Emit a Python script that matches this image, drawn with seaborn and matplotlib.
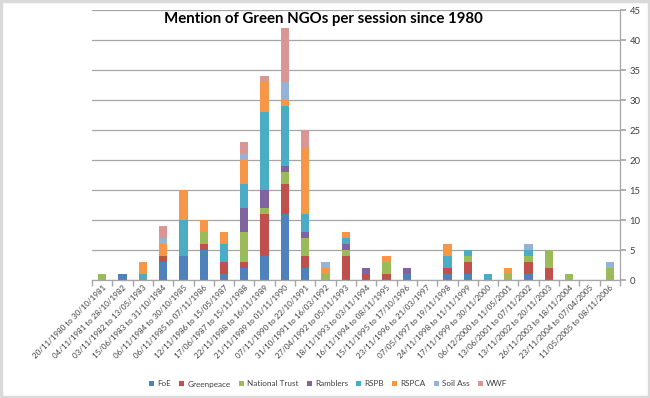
import matplotlib
matplotlib.use("Agg")
import matplotlib.pyplot as plt
import pandas as pd
import seaborn as sns
from matplotlib.patches import Patch, Rectangle
from matplotlib.ticker import FixedLocator

# --- DATA ---
sessions = [
    "20/11/1980 to 30/10/1981", "04/11/1981 to 28/10/1982", "03/11/1982 to 13/05/1983",
    "15/06/1983 to 31/10/1984", "06/11/1984 to 30/10/1985", "06/11/1985 to 07/11/1986",
    "12/11/1986 to 15/05/1987", "17/06/1987 to 15/11/1988", "22/11/1988 to 16/11/1989",
    "21/11/1989 to 01/11/1990", "07/11/1990 to 22/10/1991", "31/10/1991 to 16/03/1992",
    "27/04/1992 to 05/11/1993", "18/11/1993 to 03/11/1994", "16/11/1994 to 08/11/1995",
    "15/11/1995 to 17/10/1996", "23/11/1996 to 21/03/1997", "07/05/1997 to 19/11/1998",
    "24/11/1998 to 11/11/1999", "17/11/1999 to 30/11/2000", "06/12/2000 to 11/05/2001",
    "13/06/2001 to 07/11/2002", "13/11/2002 to 20/11/2003", "26/11/2003 to 18/11/2004",
    "23/11/2004 to 07/04/2005", "11/05/2005 to 08/11/2006",
]
orgs = ["FoE", "Greenpeace", "National Trust", "Ramblers", "RSPB", "RSPCA", "Soil Ass", "WWF"]

foe =            [0, 1, 0, 3, 4, 5, 1, 2, 4, 11, 2, 0, 0, 0, 0, 1, 0, 1, 1, 0, 0, 1, 0, 0, 0, 0]
greenpeace =     [0, 0, 0, 1, 0, 1, 2, 1, 7, 5, 2, 0, 4, 1, 1, 0, 0, 1, 2, 0, 0, 2, 2, 0, 0, 0]
national_trust = [1, 0, 0, 0, 0, 2, 0, 5, 1, 2, 3, 1, 1, 0, 2, 0, 0, 0, 1, 0, 1, 1, 3, 1, 0, 2]
ramblers =       [0, 0, 0, 0, 0, 0, 0, 4, 3, 1, 1, 0, 1, 1, 0, 1, 0, 0, 0, 0, 0, 0, 0, 0, 0, 0]
rspb =           [0, 0, 1, 0, 6, 0, 3, 4, 13, 10, 3, 0, 1, 0, 0, 0, 0, 2, 1, 1, 0, 1, 0, 0, 0, 0]
rspca =          [0, 0, 2, 2, 5, 2, 2, 4, 5, 1, 11, 1, 1, 0, 1, 0, 0, 2, 0, 0, 1, 0, 0, 0, 0, 0]
soil_ass =       [0, 0, 0, 1, 0, 0, 0, 1, 0, 3, 0, 1, 0, 0, 0, 0, 0, 0, 0, 0, 0, 1, 0, 0, 0, 1]
wwf =            [0, 0, 0, 2, 0, 0, 0, 2, 1, 9, 3, 0, 0, 0, 0, 0, 0, 0, 0, 0, 0, 0, 0, 0, 0, 0]

series = [foe, greenpeace, national_trust, ramblers, rspb, rspca, soil_ass, wwf]
colors = ["#4F81BD", "#C0504D", "#9BBB59", "#8064A2", "#4BACC6", "#F79646", "#95B3D7", "#D99694"]

df = pd.DataFrame(dict(zip(orgs, series)), index=sessions)
cum = df.cumsum(axis=1)

# --- STYLE ---
sns.set_theme(style="white")
plt.rcParams["font.family"] = ["Lato", "DejaVu Sans"]

fig = plt.figure(figsize=(6.5, 3.98), dpi=100)
ax = fig.add_axes([92 / 650, 1 - 280 / 398, 528 / 650, 270 / 398])

# stacked bars: draw cumulative totals from the top series down
for org, col in reversed(list(zip(orgs, colors))):
    sns.barplot(
        x=cum.index, y=cum[org].values, color=col, ax=ax,
        width=0.41, linewidth=0, saturation=1, errorbar=None,
    )

ax.set_ylim(0, 45)
ax.set_xlim(-0.5, len(sessions) - 0.5)
ax.set_yticks(range(0, 46, 5))
ax.yaxis.tick_right()
ax.yaxis.grid(True, color="#A6A6A6", linewidth=0.9)
ax.set_axisbelow(True)
ax.set_xlabel("")
ax.set_ylabel("")

for s in ["top", "left"]:
    ax.spines[s].set_visible(False)
for s in ["right", "bottom"]:
    ax.spines[s].set_color("#A6A6A6")
    ax.spines[s].set_linewidth(0.9)

ax.tick_params(axis="y", right=True, length=4, color="#A6A6A6", labelsize=6.8, labelcolor="#404040", pad=3)
ax.tick_params(axis="x", which="major", length=0, labelsize=5.8, labelcolor="#404040", pad=3)
ax.xaxis.set_minor_locator(FixedLocator([i - 0.5 for i in range(len(sessions) + 1)]))
ax.tick_params(axis="x", which="minor", bottom=True, length=4, color="#A6A6A6")
plt.setp(ax.get_xticklabels(), rotation=45, ha="right", rotation_mode="anchor")

fig.text(0.497, 1 - 19 / 398, "Mention of Green NGOs per session since 1980",
         ha="center", va="center", fontsize=10.8, fontweight="bold", color="black")

handles = [Patch(facecolor=c, edgecolor="none") for c in colors]
fig.legend(handles, orgs, loc="center", bbox_to_anchor=(0.505, 1 - 384 / 398), ncol=8,
           frameon=False, fontsize=5.9, handlelength=0.6, handleheight=0.6,
           handletextpad=0.4, columnspacing=1.0, labelcolor="#404040")

fig.patches.append(Rectangle((0.002, 0.003), 0.996, 0.994, transform=fig.transFigure,
                             fill=False, edgecolor="#D9D9D9", linewidth=2.5))

fig.savefig("out.png", dpi=100)
